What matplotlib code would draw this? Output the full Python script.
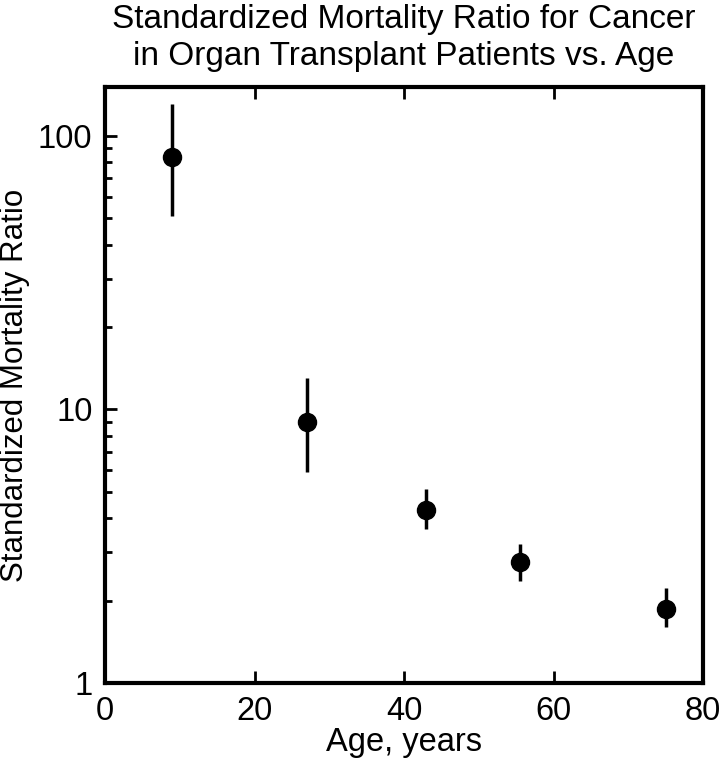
import matplotlib.pyplot as plt
import numpy as np

plt.rcParams['font.family'] = ['Liberation Sans', 'DejaVu Sans']

# data
age = [9, 27, 43, 55.5, 75]
smr = [84, 9.0, 4.3, 2.76, 1.86]
smr_hi = [131, 13.0, 5.12, 3.21, 2.22]
smr_lo = [51, 5.9, 3.65, 2.36, 1.60]

x_ticks = [0, 20, 40, 60, 80]
y_ticks = [1, 10, 100]

smr = np.array(smr)
yerr = [smr - np.array(smr_lo), np.array(smr_hi) - smr]

fig = plt.figure(figsize=(7.2, 7.61), dpi=100)
ax = fig.add_axes([105/720, 78/761, 598/720, 596/761])

ax.errorbar(age, smr, yerr=yerr, fmt='o', color='black', ms=13,
            elinewidth=2.5, capsize=0)

ax.set_yscale('log')
ax.set_xlim(0, 80)
ax.set_ylim(1, 151)
ax.set_xticks(x_ticks)
ax.set_yticks(y_ticks)
ax.set_yticklabels([str(v) for v in y_ticks])

ax.tick_params(axis='both', which='major', direction='in', length=8.5, width=2,
               labelsize=23.5, pad=9)
ax.tick_params(axis='x', pad=9)
ax.tick_params(axis='y', which='minor', direction='in', length=5, width=2)
ax.tick_params(axis='x', top=True, which='major')
ax.tick_params(axis='y', right=False, which='both')
ax.yaxis.set_minor_formatter(plt.NullFormatter())

for s in ax.spines.values():
    s.set_linewidth(3)

ax.set_xlabel('Age, years', fontsize=23.5, labelpad=0)
ax.set_ylabel('Standardized Mortality Ratio', fontsize=22.5, labelpad=6)
ax.set_title('Standardized Mortality Ratio for Cancer\nin Organ Transplant Patients vs. Age',
             fontsize=24, pad=16, linespacing=1.22)

plt.savefig('out.png', dpi=100)
